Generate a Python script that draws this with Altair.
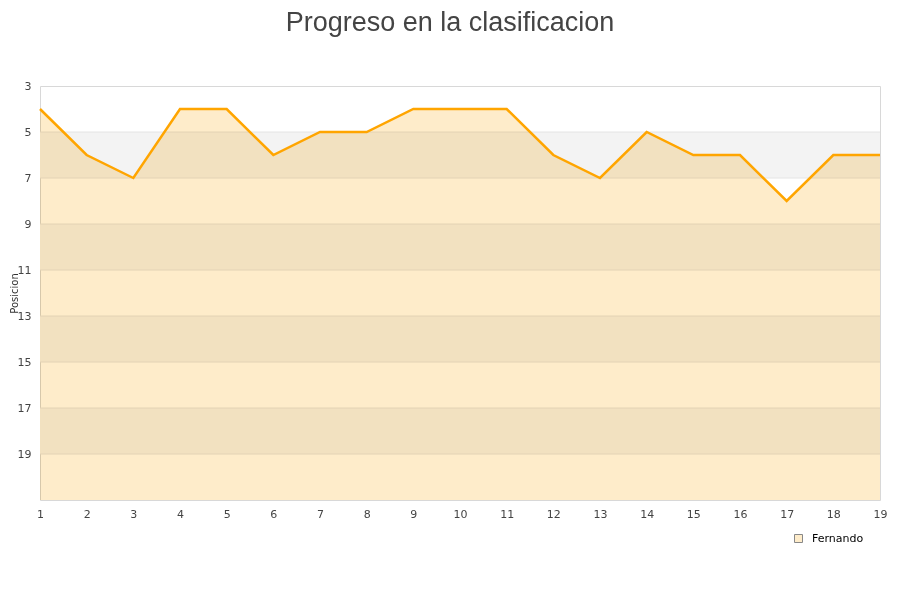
import altair as alt
import pandas as pd

jornadas = list(range(1, 20))
posiciones = [4, 6, 7, 4, 4, 6, 5, 5, 4, 4, 4, 6, 7, 5, 6, 6, 8, 6, 6]
serie = "Fernando"
y_ticks = [3, 5, 7, 9, 11, 13, 15, 17, 19]
band_starts = [5, 9, 13, 17]
band_ends = [7, 11, 15, 19]
grid_values = [5, 7, 9, 11, 13, 15, 17, 19]
y_min, y_max = 3, 21

df = pd.DataFrame({"jornada": jornadas, "posicion": posiciones, "serie": [serie] * len(jornadas)})
df["base"] = y_max
bands = pd.DataFrame({"y0": band_starts, "y1": band_ends})
grid = pd.DataFrame({"g": grid_values})

xscale = alt.Scale(domain=[1, 19], nice=False, zero=False)
yscale = alt.Scale(domain=[y_min, y_max], reverse=True, nice=False, zero=False)

xaxis = alt.Axis(values=jornadas, grid=False, domain=False, ticks=False, labelPadding=8,
                 labelFont="DejaVu Sans", labelFontSize=11, labelColor="#444",
                 labelFlush=False, labelBound=False, labelOverlap=False, title=None)
yaxis = alt.Axis(values=y_ticks, grid=False, domain=False, ticks=False, labelPadding=9,
                 labelFont="DejaVu Sans", labelFontSize=11, labelColor="#444",
                 labelBound=False, labelFlush=False, labelOverlap=False,
                 title="Posicion", titleFont="DejaVu Sans", titleFontSize=10,
                 titleFontWeight="normal", titleColor="#333",
                 titleX=-22.5, titleY=207, titleAngle=270, titleAlign="center",
                 titleBaseline="alphabetic")

band_layer = alt.Chart(bands).mark_rect(color="#f3f3f3").encode(
    y=alt.Y("y0:Q", scale=yscale, axis=yaxis),
    y2="y1:Q",
)

grid_layer = alt.Chart(grid).mark_rule(color="#e4e4e4", strokeWidth=1).encode(
    y=alt.Y("g:Q", scale=yscale),
)

area_layer = alt.Chart(df).mark_area(blend="multiply", interpolate="linear").encode(
    x=alt.X("jornada:Q", scale=xscale, axis=xaxis),
    y=alt.Y("posicion:Q", scale=yscale),
    y2="base:Q",
    fill=alt.Fill("serie:N", scale=alt.Scale(domain=[serie], range=["#feecca"]),
                  legend=alt.Legend(title=None, orient="none", legendX=753, legendY=447,
                                    symbolType="square", symbolSize=64,
                                    symbolStrokeColor="#888", symbolStrokeWidth=1,
                                    labelFont="DejaVu Sans", labelFontSize=11,
                                    labelColor="#000", labelOffset=8)),
)

line_layer = alt.Chart(df).mark_line(color="#ffa500", strokeWidth=2.5).encode(
    x=alt.X("jornada:Q", scale=xscale),
    y=alt.Y("posicion:Q", scale=yscale),
)

chart = alt.layer(band_layer, grid_layer, area_layer, line_layer).properties(
    width=840,
    height=414,
    autosize=alt.AutoSizeParams(type="none"),
    padding={"left": 32, "top": 78, "right": 10, "bottom": 80},
    title=alt.TitleParams("Progreso en la clasificacion", font="Liberation Sans", fontSize=27,
                          fontWeight="normal", color="#444", anchor="middle", dx=-10,
                          frame="group", baseline="alphabetic", offset=22),
).configure_view(stroke="#d8d8d8", strokeWidth=1)

chart.save("out.html", embed_options={"renderer": "svg", "actions": False})
